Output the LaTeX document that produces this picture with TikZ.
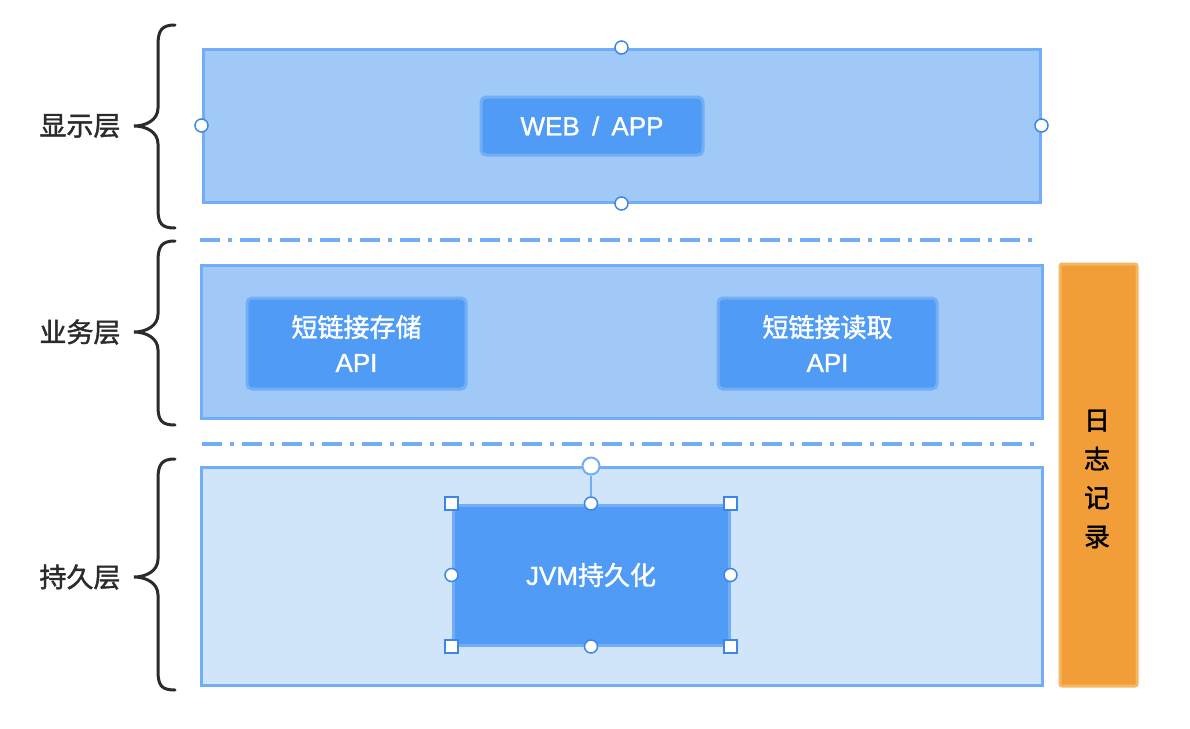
\documentclass[tikz,border=0pt]{standalone}
\usepackage{fontspec}
\setmainfont[FakeBold=1.2]{Liberation Sans}
\newfontfamily\cjk[FakeBold=1.5]{Noto Sans CJK SC}
\usetikzlibrary{positioning}
\definecolor{layerfill}{HTML}{A0C9F8}
\definecolor{layerline}{HTML}{72AEF5}
\definecolor{lowfill}{HTML}{D0E4FA}
\definecolor{innerfill}{HTML}{4F9BF6}
\definecolor{handleline}{HTML}{3C86E8}
\definecolor{orangefill}{HTML}{F19D38}
\definecolor{orangeline}{HTML}{F5B862}
\definecolor{labeltext}{HTML}{2B2B2B}
\tikzset{
  layerbox/.style={draw=layerline, line width=3pt, fill=layerfill},
  lowbox/.style={draw=layerline, line width=3pt, fill=lowfill},
  innerbox/.style={draw=layerline, line width=3pt, fill=innerfill, rounded corners=5pt,
     text=white, font=\fontsize{26}{35}\selectfont, align=center},
  handlecirc/.style={circle, draw=handleline, fill=white, line width=1.5pt, minimum size=13pt, inner sep=0pt},
  handlesq/.style={rectangle, draw=handleline, fill=white, line width=1.5pt, minimum size=13pt, inner sep=0pt},
  sidelabel/.style={text=labeltext, font=\fontsize{27}{30}\selectfont\cjk},
  bracepath/.style={draw=labeltext, line width=3pt, line cap=round},
  sepline/.style={draw=layerline, line width=4pt, dash pattern=on 20pt off 8pt on 4pt off 8pt},
}
\begin{document}
\begin{tikzpicture}[x=1pt,y=-1pt]
\useasboundingbox (0,0) rectangle (1190,728);
\fill[white] (0,0) rectangle (1190,728);

% layers
\node[layerbox, minimum width=837pt, minimum height=153pt, inner sep=0pt] (top) at (621.5,125.5) {};
\node[layerbox, minimum width=841pt, minimum height=153pt, inner sep=0pt] (mid) at (621.5,341.5) {};
\node[lowbox, minimum width=841pt, minimum height=218pt, inner sep=0pt] (low) at (621.5,576) {};

% separators
\coordinate (s1a) at (200,240); \coordinate (s1b) at (1032,240);
\coordinate (s2a) at (202,444); \coordinate (s2b) at (1034,444);
\draw[sepline] (s1a) -- (s1b);
\draw[sepline] (s2a) -- (s2b);

% inner boxes
\node[innerbox, minimum width=222pt, minimum height=58pt, inner sep=0pt] (web) at (592,126) {WEB\hspace{5pt} / \hspace{5pt}APP};
\node[innerbox, minimum width=219pt, minimum height=91pt, inner sep=0pt] (store) at (356.5,343.5) {{\cjk 短链接存储}\\API};
\node[innerbox, minimum width=219pt, minimum height=91pt, inner sep=0pt] (read) at (827.5,343.5) {{\cjk 短链接读取}\\API};
\node[innerbox, rounded corners=0pt, minimum width=276pt, minimum height=140pt, inner sep=0pt] (jvm) at (591,575) {JVM{\cjk 持久化}};

% orange log box
\node[draw=orangeline, line width=3pt, fill=orangefill, rounded corners=2pt, minimum width=77pt, minimum height=422pt, inner sep=0pt] (log) at (1098.5,475) {};
\node[align=center, font=\fontsize{26}{38.8}\selectfont\cjk, inner sep=0pt] (logtext) at (1097,479) {日\\志\\记\\录};

% handles on top box
\node[handlecirc] (t1) at (top.north) {};
\node[handlecirc] (t2) at (top.south) {};
\node[handlecirc] (t3) at (top.west) {};
\node[handlecirc] (t4) at (top.east) {};

% handles on jvm box
\node[handlesq] (j1) at (jvm.north west) {};
\node[handlesq] (j2) at (jvm.north east) {};
\node[handlesq] (j3) at (jvm.south west) {};
\node[handlesq] (j4) at (jvm.south east) {};
\node[handlecirc] (j5) at (jvm.north) {};
\node[handlecirc] (j6) at (jvm.south) {};
\node[handlecirc] (j7) at (jvm.west) {};
\node[handlecirc] (j8) at (jvm.east) {};
\node[circle, draw=layerline, fill=white, line width=2pt, minimum size=17pt, inner sep=0pt] (rot) at (591,466) {};
\draw[layerline, line width=2pt] (rot) -- (j5);

% side labels
\node[sidelabel] (l1) at (80,126) {显示层};
\node[sidelabel] (l2) at (80,332) {业务层};
\node[sidelabel] (l3) at (80,577) {持久层};

% braces
\draw[bracepath] (175,25) .. controls (162,25) and (158,30) .. (158,45) -- (158,108)
  .. controls (158,120) and (146,126) .. (134,126) .. controls (146,126) and (158,132) .. (158,144)
  -- (158,209) .. controls (158,224) and (162,228) .. (175,228);
\draw[bracepath] (175,241) .. controls (162,241) and (158,246) .. (158,261) -- (158,314)
  .. controls (158,326) and (146,332) .. (134,332) .. controls (146,332) and (158,338) .. (158,350)
  -- (158,406) .. controls (158,421) and (162,425) .. (175,425);
\draw[bracepath] (175,459) .. controls (162,459) and (158,464) .. (158,479) -- (158,559)
  .. controls (158,571) and (146,577) .. (134,577) .. controls (146,577) and (158,583) .. (158,595)
  -- (158,671) .. controls (158,686) and (162,690) .. (175,690);
\end{tikzpicture}
\end{document}
